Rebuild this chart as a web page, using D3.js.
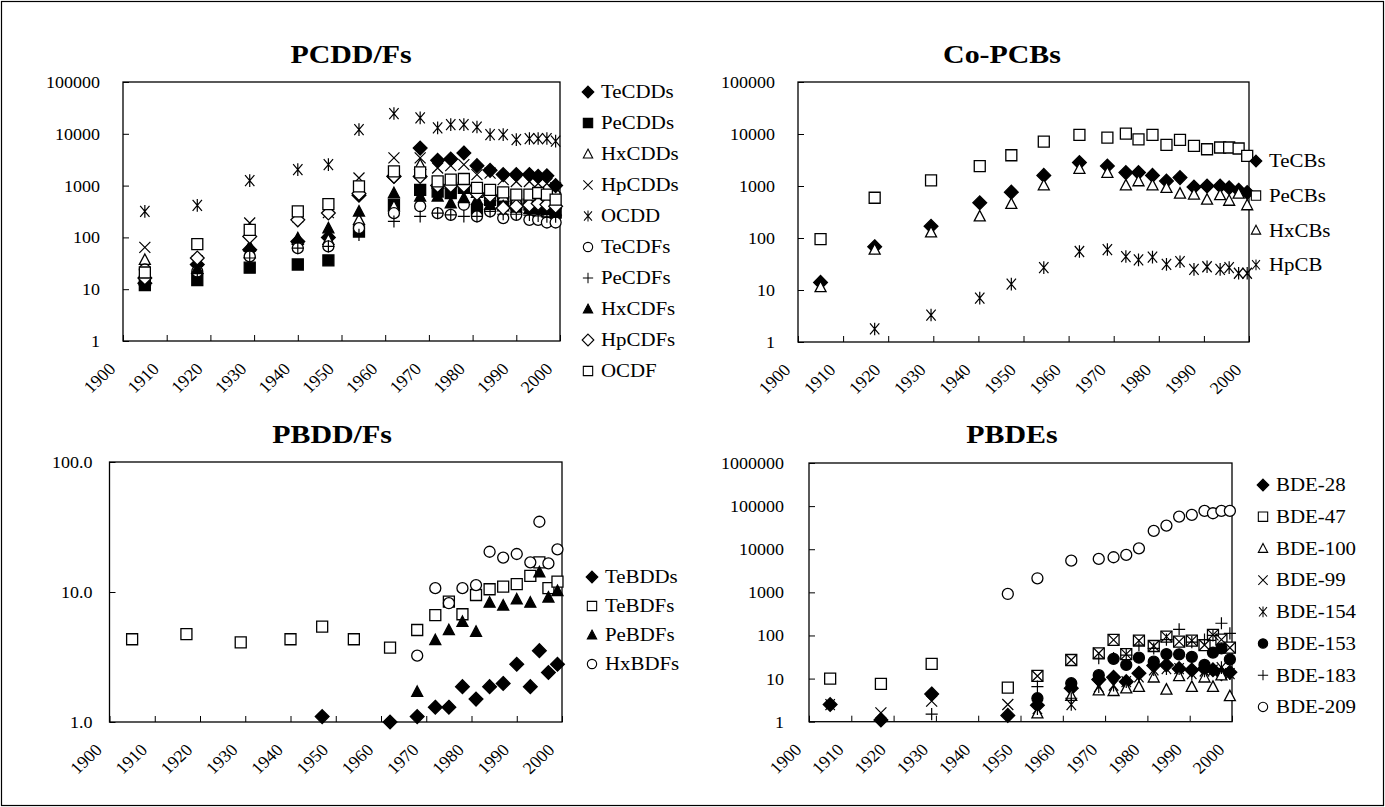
<!DOCTYPE html>
<html><head><meta charset="utf-8">
<script src="https://cdn.jsdelivr.net/npm/d3@7"></script>
<style>
body{margin:0;background:#fff;}
svg{display:block;font-family:"Liberation Serif","Times New Roman",serif;}
</style></head>
<body><svg id="c" width="1385" height="807"></svg>
<script>
// ---------- DATA ----------
const xTicks = [1900,1910,1920,1930,1940,1950,1960,1970,1980,1990,2000];

// PCDD/Fs
const years1 = [1905,1917,1929,1940,1947,1954,1962,1968,1972,1975,1978,1981,1984,1987,1990,1993,1995,1997,1999];
const TeCDDs = [13,30,58,83,100,650,1500,5300,3070,3260,4270,2430,1970,1630,1630,1630,1510,1550,1000];
const PeCDDs = [12,15,26,30,36,130,430,830,770,720,900,340,530,480,430,430,400,380,300];
const HxCDDs = [37,25,50,90,90,220,400,2540,1100,1100,1150,730,640,620,560,560,600,560,450];
const HpCDDs = [64,35,190,250,300,1400,3420,3420,2190,2430,2540,1630,1740,1300,1200,1200,1100,1100,900];
const OCDD   = [318,414,1245,2040,2540,12000,24600,20300,13000,15070,15000,13500,9660,9660,7720,8100,8100,8100,7200];
const TeCDFs = [24,22,43,62,67,151,294,400,294,273,427,254,318,236,273,218,218,194,194];
const PeCDFs = [18,20,40,62,67,112,203,254,294,273,254,254,318,280,280,270,260,250,250];
const HxCDFs = [15,25,67,97,151,318,720,620,620,460,576,534,430,400,380,360,350,340,330];
const HpCDFs = [16.5,40,104,218,295,700,1510,1500,1000,1000,1000,700,640,370,400,420,450,430,400];
const OCDF   = [21,74,140,318,440,966,1880,1800,1210,1300,1340,900,830,740,667,667,720,667,534];
const yTicks1 = [1,10,100,1000,10000,100000];

// Co-PCBs
const years2 = [1905,1917,1929.5,1940.3,1947.3,1954.5,1962.4,1968.6,1972.7,1975.5,1978.6,1981.7,1984.7,1987.8,1990.7,1993.6,1995.6,1997.7,1999.6];
const TeCBs = [14,68,168,476,762,1600,2820,2420,1810,1810,1600,1245,1450,955,1000,1000,927,830,750];
const PeCBs = [95,594,1283,2420,3900,7160,9600,8500,10200,7900,9600,6160,7700,5900,5090,5500,5500,5260,3800];
const HxCBs = [11.4,60,129,262,455,1040,2160,1810,1040,1245,1040,927,720,690,550,670,525,720,430];
const HpCB  = [null,1.78,3.3,7.0,13,27,55,60,44,38,43,31,35,25,28,25,27,21,21];
const yTicks2 = [1,10,100,1000,10000,100000];

// PBDD/Fs
const years3 = [1905,1917,1929,1940,1947,1954,1962,1968,1972,1975,1978,1981,1984,1987,1990,1993,1995,1997,1999];
const TeBDDs = [null,null,null,null,1.1,null,1.0,1.1,1.3,1.3,1.87,1.5,1.87,1.98,2.78,1.87,3.54,2.4,2.78];
const TeBDFs = [4.33,4.75,4.1,4.33,5.41,4.33,3.73,5.1,6.65,8.42,6.74,9.48,10.5,11,11.5,13.3,16.9,10.7,12];
const PeBDFs = [null,null,null,null,null,null,null,1.71,4.27,5.1,5.9,4.95,8.3,7.9,8.8,8.3,14.2,9.1,10.2];
const HxBDFs = [null,null,null,null,null,null,null,3.24,10.7,8.2,10.7,11.3,20.4,18.4,19.6,16.9,34.7,16.6,21.3];
const yTicks3 = [1,10,100];

// PBDEs
const years4 = [1905,1917,1929,1947,1954,1962,1968.5,1972,1975,1978,1981.5,1984.5,1987.5,1990.5,1993.5,1995.5,1997.5,1999.5];
const BDE28  = [2.5,1.1,4.4,1.4,2.4,6,9.5,10.7,8.5,13.3,20,20.7,17,15.8,17,16,13,14];
const BDE47  = [10,7.5,22,6.2,11.5,27,38.6,79,37,76,57,94,72,76,60,103,80,52];
const BDE100 = [null,null,null,null,1.57,4,5.4,5.2,6,6.5,10.7,5.6,11.5,6.5,10.7,6.5,12,3.95];
const BDE99  = [null,1.6,3,2.5,11.5,27,38.6,79,37,76,57,94,72,76,60,103,80,52];
const BDE154 = [2.5,null,null,null,2,2.5,6.5,7,8.5,11,16,17,17,13,15,15.8,18,13];
const BDE153 = [null,null,null,null,3.5,7.8,12,28.5,20.7,30.5,24.7,37,36.5,32,20.7,40,50,28];
const BDE183 = [null,null,1.5,null,6.5,3.5,29.6,30,35,60,50,80,139,70,80,100,192,112];
const BDE209 = [null,null,null,918,2120,5430,5960,6520,7380,10500,26600,35300,57100,62500,77400,68400,77400,77400];
const yTicks4 = [1,10,100,1000,10000,100000,1000000];

// ---------- MARKERS ----------
function markerPath(type){
  const s=5.5;
  switch(type){
    case "diamond": case "diamondOpen": return `M0,${-s*1.25}L${s*1.25},0L0,${s*1.25}L${-s*1.25},0Z`;
    case "square": case "squareOpen": return `M${-s},${-s}H${s}V${s}H${-s}Z`;
    case "triangle": case "triangleOpen": return `M0,${-s*1.05}L${s},${s*0.85}L${-s},${s*0.85}Z`;
    case "x": return `M${-s},${-s}L${s},${s}M${s},${-s}L${-s},${s}`;
    case "star": return `M${-s*0.85},${-s}L${s*0.85},${s}M${s*0.85},${-s}L${-s*0.85},${s}M0,${-s*1.15}V${s*1.15}`;
    case "plus": return `M${-s*1.1},0H${s*1.1}M0,${-s*1.1}V${s*1.1}`;
    case "circle": case "circleFilled": return `M${s},0A${s},${s} 0 1,1 ${-s},0A${s},${s} 0 1,1 ${s},0Z`;
  }
}
function styleMarker(sel,type){
  const filled = ["diamond","square","triangle","circleFilled"].includes(type);
  const line = ["x","star","plus"].includes(type);
  sel.attr("d",markerPath(type))
     .attr("fill", filled ? "#000" : (line ? "none" : "#fff"))
     .attr("stroke","#000")
     .attr("stroke-width", line ? 1.2 : 1.3);
}

const svg = d3.select("#c");
svg.append("rect").attr("x",1.5).attr("y",1.5).attr("width",1382).attr("height",804)
   .attr("fill","#fff").attr("stroke","#000").attr("stroke-width",1.2);

const SX_TITLE = 1.15, SX_LEG = 1.16, SX_TICK = 1.06;

function panel(cfg){
  const x = d3.scaleLinear().domain([1900,2000]).range([cfg.x0,cfg.x1]);
  const y = d3.scaleLog().domain([cfg.yTicks[0],cfg.yTicks[cfg.yTicks.length-1]]).range([cfg.y0,cfg.y1]);
  const g = svg.append("g");
  // title
  g.append("text").attr("transform",`translate(${cfg.titleX},${cfg.titleY}) scale(${SX_TITLE},1)`)
    .attr("text-anchor","middle").attr("font-size",26).attr("font-weight","bold").text(cfg.title);
  // axes
  const ax = g.append("g").attr("transform",`translate(0,${cfg.y0})`)
    .call(d3.axisBottom(x).tickValues(xTicks).tickFormat(d3.format("d")).tickSizeInner(-6).tickSizeOuter(0));
  ax.select(".domain").remove();
  ax.selectAll("line").attr("stroke","#000");
  ax.selectAll("text").attr("x",0).attr("y",0).attr("dy",0).attr("text-anchor","end")
    .attr("font-size",17).attr("font-family","Liberation Serif").attr("fill","#000")
    .attr("transform",`translate(-7,29) scale(${SX_TICK},1) rotate(-45)`);
  const ay = g.append("g").attr("transform",`translate(${cfg.x0},0)`)
    .call(d3.axisLeft(y).tickValues(cfg.yTicks).tickFormat(d3.format(cfg.fmt)).tickSizeInner(-6).tickSizeOuter(0));
  ay.select(".domain").remove();
  ay.selectAll("line").attr("stroke","#000");
  ay.selectAll("text").attr("x",0).attr("dy","0.32em")
    .attr("transform",`translate(${-cfg.pad},0) scale(${SX_TICK},1)`)
    .attr("font-size",17).attr("font-family","Liberation Serif").attr("fill","#000");
  // frame
  g.append("rect").attr("x",cfg.x0).attr("y",cfg.y1).attr("width",cfg.x1-cfg.x0).attr("height",cfg.y0-cfg.y1)
    .attr("fill","none").attr("stroke","#000").attr("stroke-width",1.3);
  // series
  cfg.series.forEach(s=>{
    const pts = cfg.years.map((yr,i)=>({yr,v:s.values[i]})).filter(d=>d.v!=null);
    g.append("g").selectAll("path").data(pts).join("path")
      .attr("transform",d=>`translate(${x(d.yr)},${y(d.v)})`)
      .call(styleMarker,s.marker);
  });
  // legend
  cfg.series.forEach((s,i)=>{
    const ly = cfg.legY + i*cfg.legStep;
    g.append("path").attr("transform",`translate(${cfg.legX},${ly}) scale(0.85)`).call(styleMarker,s.marker);
    g.append("text").attr("transform",`translate(${cfg.legX+13},${ly}) scale(${SX_LEG},1)`).attr("dy","0.35em")
      .attr("font-size",18).text(s.name);
  });
}

panel({title:"PCDD/Fs",titleX:351,titleY:63,x0:123,x1:560,y0:341,y1:82,yTicks:yTicks1,fmt:"d",pad:23,
  years:years1,legX:588,legY:92,legStep:31,
  series:[
    {name:"TeCDDs",values:TeCDDs,marker:"diamond"},
    {name:"PeCDDs",values:PeCDDs,marker:"square"},
    {name:"HxCDDs",values:HxCDDs,marker:"triangleOpen"},
    {name:"HpCDDs",values:HpCDDs,marker:"x"},
    {name:"OCDD",values:OCDD,marker:"star"},
    {name:"TeCDFs",values:TeCDFs,marker:"circle"},
    {name:"PeCDFs",values:PeCDFs,marker:"plus"},
    {name:"HxCDFs",values:HxCDFs,marker:"triangle"},
    {name:"HpCDFs",values:HpCDFs,marker:"diamondOpen"},
    {name:"OCDF",values:OCDF,marker:"squareOpen"}
  ]});

panel({title:"Co-PCBs",titleX:1002,titleY:63,x0:798,x1:1249,y0:342,y1:82,yTicks:yTicks2,fmt:"d",pad:23,
  years:years2,legX:1256,legY:161,legStep:34.6,
  series:[
    {name:"TeCBs",values:TeCBs,marker:"diamond"},
    {name:"PeCBs",values:PeCBs,marker:"squareOpen"},
    {name:"HxCBs",values:HxCBs,marker:"triangleOpen"},
    {name:"HpCB",values:HpCB,marker:"star"}
  ]});

panel({title:"PBDD/Fs",titleX:332,titleY:443,x0:109.5,x1:562,y0:722,y1:462,yTicks:yTicks3,fmt:".1f",pad:17,
  years:years3,legX:592,legY:577,legStep:29,
  series:[
    {name:"TeBDDs",values:TeBDDs,marker:"diamond"},
    {name:"TeBDFs",values:TeBDFs,marker:"squareOpen"},
    {name:"PeBDFs",values:PeBDFs,marker:"triangle"},
    {name:"HxBDFs",values:HxBDFs,marker:"circle"}
  ]});

panel({title:"PBDEs",titleX:1012,titleY:443,x0:809,x1:1232,y0:721.7,y1:463,yTicks:yTicks4,fmt:"d",pad:25,
  years:years4,legX:1263,legY:485,legStep:31.7,
  series:[
    {name:"BDE-28",values:BDE28,marker:"diamond"},
    {name:"BDE-47",values:BDE47,marker:"squareOpen"},
    {name:"BDE-100",values:BDE100,marker:"triangleOpen"},
    {name:"BDE-99",values:BDE99,marker:"x"},
    {name:"BDE-154",values:BDE154,marker:"star"},
    {name:"BDE-153",values:BDE153,marker:"circleFilled"},
    {name:"BDE-183",values:BDE183,marker:"plus"},
    {name:"BDE-209",values:BDE209,marker:"circle"}
  ]});
</script></body></html>
